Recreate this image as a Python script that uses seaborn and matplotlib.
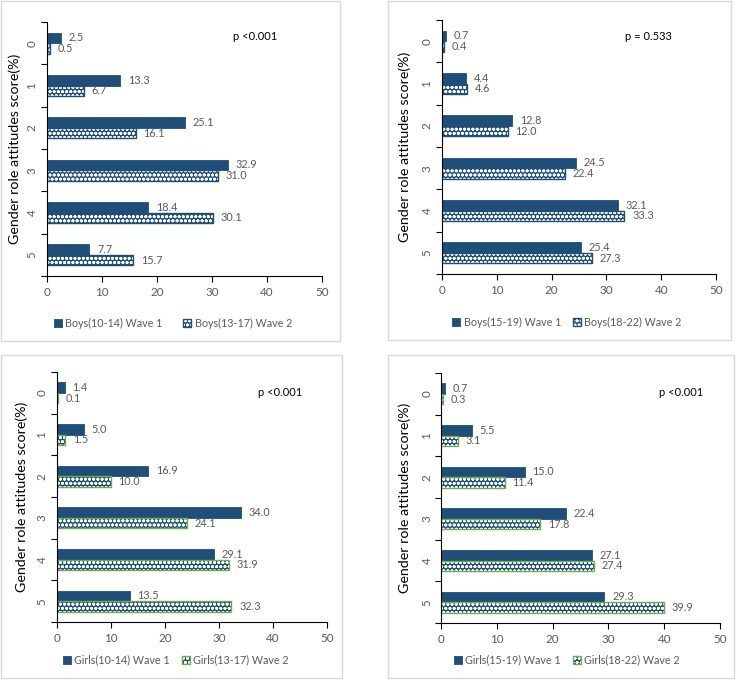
import numpy as np
import pandas as pd
import matplotlib
matplotlib.use("Agg")
import matplotlib.pyplot as plt
from matplotlib.patches import Rectangle, Patch
from matplotlib.colors import to_rgba
import seaborn as sns

sns.set_theme(style="white")
plt.rcParams['font.family'] = ['Lato', 'DejaVu Sans']
plt.rcParams['hatch.linewidth'] = 0.9

scores = ["0", "1", "2", "3", "4", "5"]

boys_young_w1 = [2.5, 13.3, 25.1, 32.9, 18.4, 7.7]
boys_young_w2 = [0.5, 6.7, 16.1, 31.0, 30.1, 15.7]
boys_old_w1 = [0.7, 4.4, 12.8, 24.5, 32.1, 25.4]
boys_old_w2 = [0.4, 4.6, 12.0, 22.4, 33.3, 27.3]
girls_young_w1 = [1.4, 5.0, 16.9, 34.0, 29.1, 13.5]
girls_young_w2 = [0.1, 1.5, 10.0, 24.1, 31.9, 32.3]
girls_old_w1 = [0.7, 5.5, 15.0, 22.4, 27.1, 29.3]
girls_old_w2 = [0.3, 3.1, 11.4, 17.8, 27.4, 39.9]

series_names = [
    ("Boys(10-14) Wave 1", "Boys(13-17) Wave 2"),
    ("Boys(15-19) Wave 1", "Boys(18-22) Wave 2"),
    ("Girls(10-14) Wave 1", "Girls(13-17) Wave 2"),
    ("Girls(15-19) Wave 1", "Girls(18-22) Wave 2"),
]
p_labels = ["p <0.001", "p = 0.533", "p <0.001", "p <0.001"]
x_ticks = [0, 10, 20, 30, 40, 50]
y_label = "Gender role attitudes score(%)"

BLUE = "#1F4E79"
GREEN = "#70AD47"
GRAY = "#595959"
HATCH = "oooo"

W, H = 736, 688
fig = plt.figure(figsize=(W / 100, H / 100), dpi=100)
renderer = fig.canvas.get_renderer()


def fit_size(text, target_px, base=10.0):
    t = fig.text(0, 0, text, fontsize=base)
    w = t.get_window_extent(renderer).width
    t.remove()
    return base * target_px / w


LEG_FS = fit_size("Boys(10-14) Wave 1", 98)
YLAB_FS = fit_size(y_label, 190)
DL_FS = fit_size("32.9", 21.5)
TICK_FS = fit_size("50", 13.5)
P_FS = fit_size("p <0.001", 44)

# panel frames (pixels): x0, y0, x1, y1
frames = [(1, 1, 340, 341), (388, 1, 731, 340), (1, 355, 342, 678), (388, 355, 734, 678)]
# axes boxes (pixels): left, top, right, bottom
axboxes = [(47, 22, 322, 276), (442, 20, 716, 274), (57, 372, 327, 622), (441, 373, 720, 623)]
ylabel_x = [15, 405, 22, 405]
ytick_x = [32, 427, 42, 427]
legend_x = [173, 567, 176, 567]
legend_gap = [1.9, 1.1, 1.1, 1.1]
plabel_pos = [(233, 36), (625, 37), (258, 393), (659, 392)]
edge_colors = [BLUE, BLUE, GREEN, GREEN]
data = [(boys_young_w1, boys_young_w2), (boys_old_w1, boys_old_w2),
        (girls_young_w1, girls_young_w2), (girls_old_w1, girls_old_w2)]

for (fx0, fy0, fx1, fy1) in frames:
    fig.patches.append(Rectangle((fx0 / W, 1 - fy1 / H), (fx1 - fx0) / W, (fy1 - fy0) / H,
                                 transform=fig.transFigure, fill=False,
                                 edgecolor="#D9D9D9", linewidth=1.0))

for i in range(4):
    l, t, r, b = axboxes[i]
    ax = fig.add_axes([l / W, 1 - b / H, (r - l) / W, (b - t) / H])
    w1, w2 = data[i]
    n1, n2 = series_names[i]
    df = pd.DataFrame({
        "score": scores + scores,
        "value": list(w1) + list(w2),
        "wave": [n1] * len(scores) + [n2] * len(scores),
    })
    sns.barplot(data=df, y="score", x="value", hue="wave", orient="h",
                order=scores, hue_order=[n1, n2], palette=[BLUE, "white"],
                width=0.5, legend=False, ax=ax, errorbar=None, saturation=1)
    ec = edge_colors[i]
    for p in ax.containers[0]:
        p.set_edgecolor(BLUE)
        p.set_linewidth(0.6)
    for p in ax.containers[1]:
        p.set_facecolor(BLUE)
        p.set_hatch(HATCH)
        p.set_edgecolor(ec)
        p.set_linewidth(1.0)
        p._hatch_color = to_rgba("white")
    for c in ax.containers:
        ax.bar_label(c, fmt="%.1f", padding=5.5, color=GRAY, fontsize=DL_FS)

    ax.set_xlim(0, 50)
    ax.set_ylim(5.5, -0.5)
    ax.set_xticks(x_ticks)
    ax.set_xticklabels([str(v) for v in x_ticks])
    ax.set_yticks(range(len(scores)))
    ax.set_yticklabels(scores, rotation=90, va="center", ha="center")
    ax.set_yticks(np.arange(-0.5, len(scores), 1.0), minor=True)
    ax.tick_params(axis="y", which="major", length=0, pad=(l - ytick_x[i]) * 0.72,
                   labelsize=TICK_FS, labelcolor=GRAY)
    for lab in ax.get_yticklabels():
        lab.set_horizontalalignment("center")
    ax.tick_params(axis="y", which="minor", length=4, width=0.8, color="black", left=True)
    ax.tick_params(axis="x", which="major", length=4, width=0.8, color="black", bottom=True,
                   labelsize=TICK_FS, labelcolor=GRAY, pad=4)
    for s in ["top", "right"]:
        ax.spines[s].set_visible(False)
    for s in ["left", "bottom"]:
        ax.spines[s].set_color("black")
        ax.spines[s].set_linewidth(0.8)
    ax.set_xlabel("")
    ax.set_ylabel(y_label, fontsize=YLAB_FS, color="black")
    ax.yaxis.set_label_coords((ylabel_x[i] - l) / (r - l), 0.5)
    ax.yaxis.label.set_verticalalignment("center")
    ax.grid(False)

    px, py = plabel_pos[i]
    fig.text(px / W, 1 - py / H, p_labels[i], fontsize=P_FS, color="black", va="center", ha="left")

    h1 = Patch(facecolor=BLUE, edgecolor=BLUE, linewidth=0.6)
    h2 = Patch(facecolor=BLUE, edgecolor=ec, hatch=HATCH, linewidth=1.0)
    h2._hatch_color = to_rgba("white")
    fx0, fy0, fx1, fy1 = frames[i]
    leg = fig.legend([h1, h2], [n1, n2], loc="center",
                     bbox_to_anchor=(legend_x[i] / W, 1 - (fy1 - 18) / H),
                     ncol=2, frameon=False, fontsize=LEG_FS, handlelength=0.75, handleheight=0.75,
                     handletextpad=0.3, columnspacing=legend_gap[i], labelcolor=GRAY,
                     borderpad=0.2)

fig.savefig("out.png", dpi=100)
